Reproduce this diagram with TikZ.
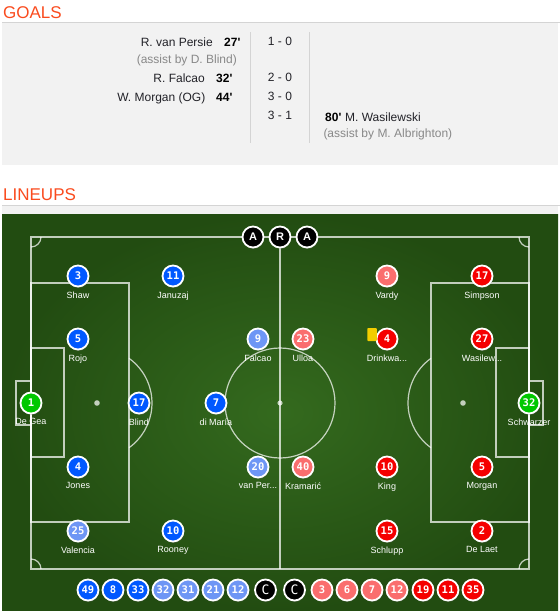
\documentclass[tikz,border=0pt]{standalone}
\usepackage{fontspec}
\setmainfont{Liberation Sans}
\newfontfamily\sitefont{Liberation Sans}
\newfontfamily\numfont{DejaVu Sans Mono}
\usetikzlibrary{positioning, shadows}
\definecolor{headred}{RGB}{250, 75, 30}
\definecolor{panelgray}{RGB}{242, 242, 242}
\definecolor{rulegray}{RGB}{212, 212, 212}
\definecolor{assistgray}{RGB}{136, 136, 136}
\definecolor{inkdark}{RGB}{34, 34, 40}
\definecolor{manblue}{RGB}{0, 88, 255}
\definecolor{manlight}{RGB}{110, 150, 245}
\definecolor{leired}{RGB}{245, 0, 0}
\definecolor{leilight}{RGB}{250, 110, 110}
\definecolor{keepgreen}{RGB}{0, 200, 0}
\definecolor{grassin}{RGB}{52, 106, 30}
\definecolor{grassout}{RGB}{34, 76, 17}
\definecolor{cardyellow}{RGB}{242, 205, 0}

\tikzset{
    heading/.style={text=headred, inner sep=0pt, anchor=base west, font=\sitefont\fontsize{17}{19}\selectfont},
    goaltext/.style={text=inkdark, inner sep=0pt, font=\sitefont\fontsize{12}{14}\selectfont},
    goalmin/.style={goaltext, text=black, font=\sitefont\bfseries\fontsize{12}{14}\selectfont},
    assisttext/.style={goaltext, text=assistgray},
    pitchline/.style={draw=white, draw opacity=0.72, line width=1.2pt},
    player/.style={circle, minimum size=21pt, inner sep=0pt, draw=white, line width=1.8pt, text=white,
        font=\numfont\bfseries\fontsize{10.5}{12}\selectfont,
        drop shadow={shadow xshift=0.5pt, shadow yshift=-1.3pt, opacity=0.45}},
    mufc/.style={player, fill=manblue},
    mufcsub/.style={player, fill=manlight},
    lcfc/.style={player, fill=leired},
    lcfcsub/.style={player, fill=leilight},
    keeper/.style={player, fill=keepgreen},
    official/.style={player, fill=black, font=\sitefont\bfseries\fontsize{11}{12}\selectfont},
    coach/.style={player, fill=black, font=\numfont\fontsize{13}{14}\selectfont},
    plname/.style={text=white, inner sep=0pt, font=\sitefont\fontsize{9}{10}\selectfont}
}

\begin{document}
\begin{tikzpicture}[x=1pt, y=-1pt]
    \useasboundingbox (0,0) rectangle (560,611);
    \fill[white] (0,0) rectangle (560,611);

    % Goals panel
    \node[heading] (goalshead) at (3,18) {GOALS};
    \fill[panelgray] (2,23) rectangle (558,165);
    \draw[rulegray, line width=1pt] (2,22.5) -- (560,22.5);
    \draw[rulegray, line width=1pt] (250,32) -- (250,143);
    \draw[rulegray, line width=1pt] (309.5,32) -- (309.5,143);

    \node[goaltext, anchor=base east] (vanpersie) at (213,46.7) {R. van Persie};
    \node[goalmin, anchor=base west] (min27) at (224,46.7) {27'};
    \node[assisttext, anchor=base east] (assistblind) at (237,63.5) {(assist by D. Blind)};
    \node[goaltext, anchor=base east] (falcao) at (205,82.5) {R. Falcao};
    \node[goalmin, anchor=base west] (min32) at (216,82.5) {32'};
    \node[goaltext, anchor=base east] (morganog) at (205.5,101.5) {W. Morgan (OG)};
    \node[goalmin, anchor=base west] (min44) at (216,101.5) {44'};

    \node[goaltext, anchor=base] (score1) at (280,45.7) {1 - 0};
    \node[goaltext, anchor=base] (score2) at (280,81.7) {2 - 0};
    \node[goaltext, anchor=base] (score3) at (280,100.7) {3 - 0};
    \node[goaltext, anchor=base] (score4) at (280,119.3) {3 - 1};

    \node[goalmin, anchor=base west] (min80) at (325,121.5) {80'};
    \node[goaltext, anchor=base west] (wasilewski) at (min80.base east) {\ M. Wasilewski};
    \node[assisttext, anchor=base west] (assistalb) at (323.3,137) {(assist by M. Albrighton)};

    % Lineups header
    \node[heading] (lineupshead) at (3,200.7) {LINEUPS};
    \fill[panelgray] (2,206) rectangle (558,215);
    \draw[rulegray, line width=1pt] (2,205.5) -- (560,205.5);

    % Pitch
    \shade[inner color=grassin, outer color=grassout] (2,214) rectangle (558,611);
    \begin{scope}[pitchline]
        \draw (31,237) rectangle (529,569);
        \draw (280,237) -- (280,569);
        \draw (280,403) circle (55);
        \fill[white, opacity=0.72] (280,403) circle (2.6);
        % left end
        \draw (31,283) rectangle (129,522);
        \draw (31,348) rectangle (64,457);
        \draw (16,381) rectangle (31,425);
        \fill[white, opacity=0.72] (97,403) circle (2.8);
        \draw (129,358.3) arc[start angle=-54.4, end angle=54.4, radius=55];
        % right end
        \draw (431,283) rectangle (529,522);
        \draw (496,348) rectangle (529,457);
        \draw (529,381) rectangle (543,425);
        \fill[white, opacity=0.72] (463,403) circle (2.8);
        \draw (431,358.3) arc[start angle=234.4, end angle=125.6, radius=55];
        % corners
        \draw (41,237) arc[start angle=0, end angle=90, radius=10];
        \draw (519,237) arc[start angle=180, end angle=90, radius=10];
        \draw (41,569) arc[start angle=0, end angle=-90, radius=10];
        \draw (519,569) arc[start angle=180, end angle=270, radius=10];
    \end{scope}

    % Officials
    \node[official] (assist1) at (253,237) {A};
    \node[official] (referee) at (280,237) {R};
    \node[official] (assist2) at (307,237) {A};

    % Manchester United
    \node[keeper] (degea) at (31,403) {1};
    \node[plname, below=4pt of degea] (degeaname) {De Gea};
    \node[mufc] (shaw) at (78,276) {3};
    \node[plname, below=4pt of shaw] (shawname) {Shaw};
    \node[mufc] (rojo) at (78,339) {5};
    \node[plname, below=4pt of rojo] (rojoname) {Rojo};
    \node[mufc] (jones) at (78,467) {4};
    \node[plname, below=4pt of jones] (jonesname) {Jones};
    \node[mufcsub] (valencia) at (78,531) {25};
    \node[plname, below=4pt of valencia] (valencianame) {Valencia};
    \node[mufc] (blind) at (139,403) {17};
    \node[plname, below=4pt of blind] (blindname) {Blind};
    \node[mufc] (januzaj) at (173,276) {11};
    \node[plname, below=4pt of januzaj] (januzajname) {Januzaj};
    \node[mufc] (rooney) at (173,531) {10};
    \node[plname, below=4pt of rooney] (rooneyname) {Rooney};
    \node[mufc] (dimaria) at (216,403) {7};
    \node[plname, below=4pt of dimaria] (dimarianame) {di María};
    \node[mufcsub] (falcaop) at (258,339) {9};
    \node[plname, below=4pt of falcaop] (falcaoname) {Falcao};
    \node[mufcsub] (vanpersiep) at (258,467) {20};
    \node[plname, below=4pt of vanpersiep] (vanpersiename) {van Per...};

    % Leicester City
    \node[lcfcsub] (ulloa) at (303,339) {23};
    \node[plname, below=4pt of ulloa] (ulloaname) {Ulloa};
    \node[lcfcsub] (kramaric) at (303,467) {40};
    \node[plname, below=4pt of kramaric] (kramaricname) {Kramarić};
    \node[lcfcsub] (vardy) at (387,276) {9};
    \node[plname, below=4pt of vardy] (vardyname) {Vardy};
    \node[lcfc] (drinkwater) at (387,339) {4};
    \node[plname, below=4pt of drinkwater] (drinkwatername) {Drinkwa...};
    \node[lcfc] (king) at (387,467) {10};
    \node[plname, below=4pt of king] (kingname) {King};
    \node[lcfc] (schlupp) at (387,531) {15};
    \node[plname, below=4pt of schlupp] (schluppname) {Schlupp};
    \node[lcfc] (simpson) at (482,276) {17};
    \node[plname, below=4pt of simpson] (simpsonname) {Simpson};
    \node[lcfc] (wasilewskip) at (482,339) {27};
    \node[plname, below=4pt of wasilewskip] (wasilewskiname) {Wasilew...};
    \node[lcfc] (morgan) at (482,467) {5};
    \node[plname, below=4pt of morgan] (morganname) {Morgan};
    \node[lcfc] (delaet) at (482,531) {2};
    \node[plname, below=4pt of delaet] (delaetname) {De Laet};
    \node[keeper] (schwarzer) at (529,403) {32};
    \node[plname, below=4pt of schwarzer] (schwarzername) {Schwarzer};

    % Yellow card
    \node[fill=cardyellow, rounded corners=0.8pt, minimum width=9.5pt, minimum height=13pt,
        inner sep=0pt] (yellowcard) at (372,334.5) {};

    % Substitutes
    \node[mufc] (sub49) at (88,590) {49};
    \node[mufc] (sub8) at (113,590) {8};
    \node[mufc] (sub33) at (138,590) {33};
    \node[mufcsub] (sub32) at (163,590) {32};
    \node[mufcsub] (sub31) at (188,590) {31};
    \node[mufcsub] (sub21) at (213,590) {21};
    \node[mufcsub] (sub12) at (238,590) {12};
    \node[coach] (coachmu) at (265.5,590) {C};
    \node[coach] (coachlei) at (294.5,590) {C};
    \node[lcfcsub] (sub3) at (322,590) {3};
    \node[lcfcsub] (sub6) at (347,590) {6};
    \node[lcfcsub] (sub7) at (372,590) {7};
    \node[lcfcsub] (sub12b) at (397,590) {12};
    \node[lcfc] (sub19) at (423,590) {19};
    \node[lcfc] (sub11) at (448,590) {11};
    \node[lcfc] (sub35) at (473,590) {35};
\end{tikzpicture}
\end{document}
